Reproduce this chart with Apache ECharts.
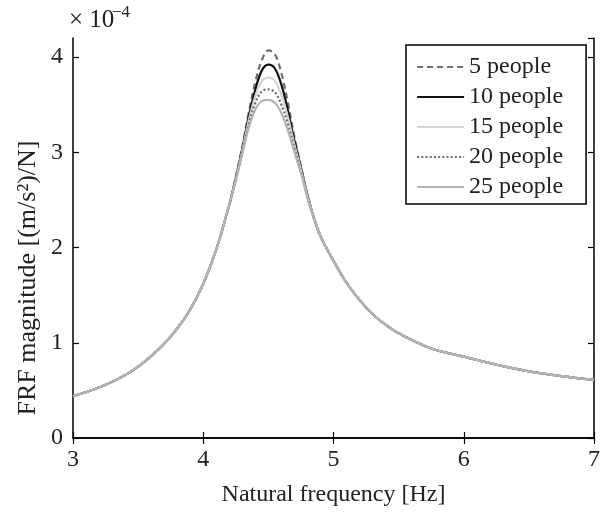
<!DOCTYPE html>
<html>
<head>
<meta charset="utf-8">
<script src="https://cdn.jsdelivr.net/npm/echarts@6/dist/echarts.min.js"></script>
<style>
html,body{margin:0;padding:0;background:#fff;}
#chart{width:603px;height:514px;}
</style>
</head>
<body>
<div id="chart"></div>
<script>
// Frequencies [Hz]
const freq = [3.0, 3.2, 3.4, 3.5, 3.6, 3.7, 3.8, 3.9, 4.0, 4.1, 4.2, 4.25, 4.3, 4.35, 4.4, 4.45, 4.5, 4.55, 4.6, 4.65, 4.7, 4.75, 4.8, 4.85, 4.9, 5.0, 5.1, 5.2, 5.3, 5.4, 5.5, 5.75, 6.0, 6.25, 6.5, 6.75, 7.0];
// FRF magnitudes in units of 1e-4 (m/s^2)/N
const people5  = [0.44, 0.53, 0.66, 0.75, 0.86, 0.99, 1.15, 1.35, 1.62, 1.98, 2.45, 2.74, 3.06, 3.42, 3.74, 3.97, 4.07, 4.03, 3.83, 3.52, 3.16, 2.85, 2.55, 2.31, 2.12, 1.86, 1.63, 1.45, 1.30, 1.19, 1.10, 0.94, 0.855, 0.77, 0.70, 0.65, 0.61];
const people10 = [0.44, 0.53, 0.66, 0.75, 0.86, 0.99, 1.15, 1.35, 1.62, 1.98, 2.45, 2.73, 3.04, 3.38, 3.66, 3.86, 3.92, 3.88, 3.71, 3.44, 3.12, 2.84, 2.55, 2.31, 2.12, 1.86, 1.63, 1.45, 1.30, 1.19, 1.10, 0.94, 0.855, 0.77, 0.70, 0.65, 0.61];
const people15 = [0.44, 0.53, 0.66, 0.75, 0.86, 0.99, 1.15, 1.35, 1.62, 1.98, 2.45, 2.72, 3.02, 3.34, 3.59, 3.75, 3.785, 3.75, 3.60, 3.37, 3.08, 2.82, 2.54, 2.31, 2.12, 1.86, 1.63, 1.45, 1.30, 1.19, 1.10, 0.94, 0.855, 0.77, 0.70, 0.65, 0.61];
const people20 = [0.44, 0.53, 0.66, 0.75, 0.86, 0.99, 1.15, 1.35, 1.62, 1.98, 2.45, 2.71, 3.00, 3.30, 3.52, 3.64, 3.66, 3.63, 3.50, 3.30, 3.04, 2.80, 2.53, 2.30, 2.12, 1.86, 1.63, 1.45, 1.30, 1.19, 1.10, 0.94, 0.855, 0.77, 0.70, 0.65, 0.61];
const people25 = [0.44, 0.53, 0.66, 0.75, 0.86, 0.99, 1.15, 1.35, 1.62, 1.98, 2.45, 2.70, 2.98, 3.26, 3.45, 3.54, 3.55, 3.52, 3.41, 3.23, 3.00, 2.78, 2.52, 2.30, 2.12, 1.86, 1.63, 1.45, 1.30, 1.19, 1.10, 0.94, 0.855, 0.77, 0.70, 0.65, 0.61];
const seriesNames = ['5 people', '10 people', '15 people', '20 people', '25 people'];
const xTicks = [3, 4, 5, 6, 7];
const yTicks = [0, 1, 2, 3, 4];

const FONT = 'Liberation Serif';
const styles = [
  {color: '#6e6e6e', type: [6, 4], width: 2.2},
  {color: '#111111', type: 'solid', width: 2.2},
  {color: '#d4d4d4', type: 'solid', width: 2.2},
  {color: '#6e6e6e', type: [2, 2.2], width: 2.2},
  {color: '#b4b4b4', type: 'solid', width: 2.2}
];
const allData = [people5, people10, people15, people20, people25];

const pair = d => freq.map((f, i) => [f, d[i]]);

const axisLineStyle = {lineStyle: {color: '#000', width: 1.5}};
const tickStyle = {show: true, inside: true, length: 6, lineStyle: {color: '#000', width: 1.2}};

const chart = echarts.init(document.getElementById('chart'), null, {renderer: 'canvas'});
chart.setOption({
  backgroundColor: '#fff',
  animation: false,
  textStyle: {fontFamily: FONT},
  grid: {left: 73, right: 6, top: 38, bottom: 76, containLabel: false},
  xAxis: [
    {
      type: 'value', min: xTicks[0], max: xTicks[xTicks.length - 1], interval: 1, position: 'bottom',
      name: 'Natural frequency [Hz]', nameLocation: 'middle', nameGap: 45,
      nameTextStyle: {fontFamily: FONT, fontSize: 24, color: '#222'},
      axisLine: axisLineStyle, axisTick: tickStyle,
      axisLabel: {fontFamily: FONT, fontSize: 24, color: '#222', margin: 10},
      splitLine: {show: false}
    },
    {
      type: 'value', min: xTicks[0], max: xTicks[xTicks.length - 1], interval: 1, position: 'top',
      axisLine: axisLineStyle, axisTick: tickStyle, axisLabel: {show: false}, splitLine: {show: false}
    }
  ],
  yAxis: [
    {
      type: 'value', min: 0, max: 4.2, interval: 1, position: 'left',
      axisLine: axisLineStyle, axisTick: tickStyle,
      axisLabel: {fontFamily: FONT, fontSize: 24, color: '#222', margin: 10, showMaxLabel: false,
        formatter: v => (yTicks.indexOf(v) >= 0 ? String(v) : '')},
      splitLine: {show: false}
    },
    {
      type: 'value', min: 0, max: 4.2, interval: 1, position: 'right',
      axisLine: axisLineStyle, axisTick: tickStyle, axisLabel: {show: false}, splitLine: {show: false}
    }
  ],
  legend: {
    orient: 'vertical', left: 406, top: 45,
    padding: [10, 23, 5, 10], itemGap: 6,
    itemWidth: 47, itemHeight: 14,
    backgroundColor: '#fff', borderColor: '#000', borderWidth: 1.5,
    itemStyle: {opacity: 0},
    lineStyle: {width: 2.2},
    textStyle: {fontFamily: FONT, fontSize: 24, color: '#222'},
    data: seriesNames
  },
  graphic: [
    {type: 'text', left: 69, top: 8, style: {text: '× 10', font: '25px "Liberation Serif"', fill: '#222'}},
    {type: 'text', left: 112, top: 4, style: {text: '−4', font: '17px "Liberation Serif"', fill: '#222'}},
    {type: 'text', x: 28, y: 278, rotation: Math.PI / 2,
      style: {text: 'FRF magnitude [(m/s²)/N]', font: '26px "Liberation Serif"', fill: '#222', align: 'center', verticalAlign: 'middle'}}
  ],
  series: seriesNames.map((n, i) => ({
    name: n, type: 'line', data: pair(allData[i]), xAxisIndex: 0, yAxisIndex: 0,
    showSymbol: false, symbol: 'none', smooth: 0.35,
    lineStyle: styles[i], itemStyle: {color: styles[i].color}
  }))
});
</script>
</body>
</html>
